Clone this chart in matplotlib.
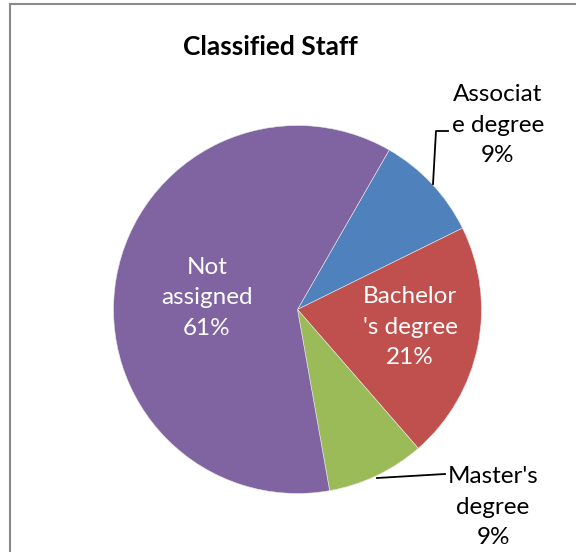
import matplotlib
matplotlib.use("Agg")
import matplotlib.pyplot as plt
from matplotlib.patches import Rectangle

categories = ["Associate degree", "Bachelor's degree", "Master's degree", "Not assigned"]
values = [9.4, 20.9, 8.6, 61.1]
label_lines = ["Associat\ne degree", "Bachelor\n's degree", "Master's\ndegree", "Not\nassigned"]
pct_labels = ["9%", "21%", "9%", "61%"]
colors = ["#4F81BD", "#C0504D", "#9BBB59", "#8064A2"]
title = "Classified Staff"

plt.rcParams['font.family'] = ['Lato', 'DejaVu Sans']

W, H = 576, 552
fig = plt.figure(figsize=(W / 100, H / 100), dpi=100)
ax = fig.add_axes([0, 0, 1, 1])
ax.set_axis_off()

cx, cy, R = 297.5, 309.5, 184.0
def d(px, py):
    return ((px - cx) / R, (cy - py) / R)

wedges, _ = ax.pie(values, colors=colors, startangle=60.1, counterclock=False,
                   radius=1.0, center=(0, 0),
                   wedgeprops=dict(edgecolor="#e8e8e8", linewidth=0.4))
x0, y0 = d(0, H)
x1, y1 = d(W, 0)
ax.set_xlim(x0, x1)
ax.set_ylim(y0, y1)
ax.set_aspect('auto')

fs = 17.5
ls = 1.58
# inside labels (white)
tx, ty = d(207, 298)
ax.text(tx, ty, label_lines[3] + "\n" + pct_labels[3], color="white", fontsize=fs,
        ha="center", va="center", linespacing=ls)
tx, ty = d(410, 327)
ax.text(tx, ty, label_lines[1] + "\n" + pct_labels[1], color="white", fontsize=fs,
        ha="center", va="center", linespacing=ls)
# outside labels (black)
tx, ty = d(498, 125)
ax.text(tx, ty, label_lines[0] + "\n" + pct_labels[0], color="black", fontsize=fs,
        ha="center", va="center", linespacing=ls)
tx, ty = d(493, 507)
ax.text(tx, ty, label_lines[2] + "\n" + pct_labels[2], color="black", fontsize=fs,
        ha="center", va="center", linespacing=ls)

# leader lines
p = [d(433, 184), d(436, 131), d(448, 131)]
ax.plot([q[0] for q in p], [q[1] for q in p], color="black", lw=1.3)
p = [d(377, 478), d(445, 474)]
ax.plot([q[0] for q in p], [q[1] for q in p], color="black", lw=1.3)

fig.text(270 / W, 1 - 47 / H, title, fontsize=19, fontweight="bold",
         ha="center", va="center")

fig.patches.append(Rectangle((9.5 / W, -0.05), 1.1, 1 - 3.5 / H + 0.05,
                             transform=fig.transFigure, fill=False,
                             edgecolor="#8a8a8a", linewidth=1.5))

fig.savefig("out.png", dpi=100)
